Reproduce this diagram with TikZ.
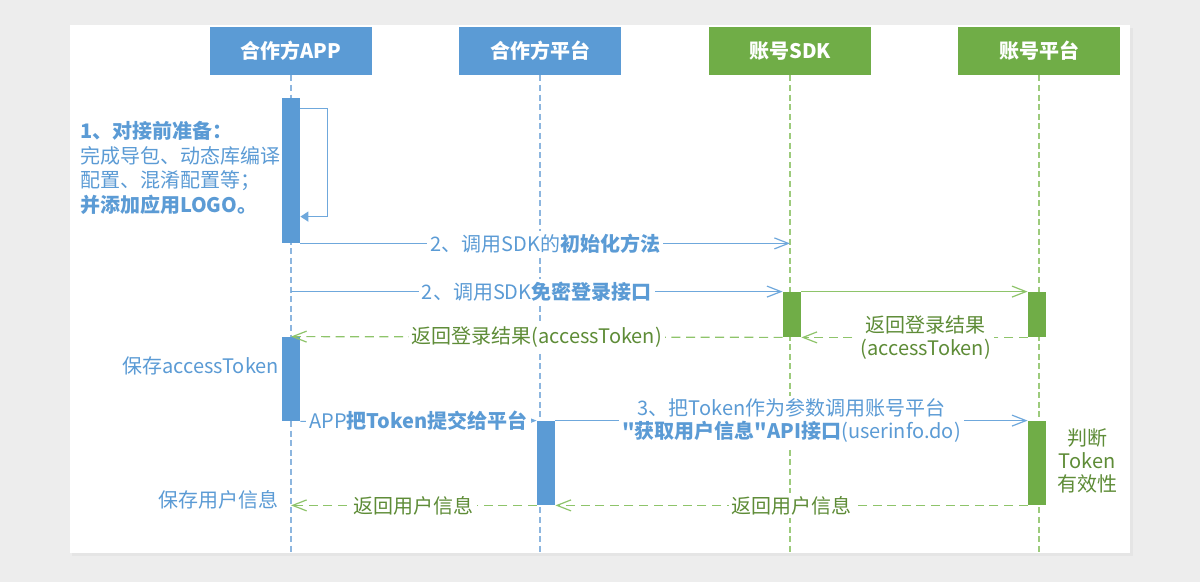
\documentclass[tikz,border=0pt]{standalone}
\usepackage{fontspec}
\setmainfont{Noto Sans CJK SC}
\newfontfamily\quotefont{Noto Sans CJK SC}
\usepackage{tikz}
\usetikzlibrary{arrows.meta,calc}

\definecolor{appblue}{HTML}{5B9BD5}
\definecolor{accgreen}{HTML}{70AD47}
\definecolor{lineblue}{HTML}{8DB6DF}
\definecolor{linegreen}{HTML}{9DCB7C}
\definecolor{txtgreen}{HTML}{5E8C37}
\definecolor{arrowblue}{HTML}{6FA8DC}
\definecolor{arrowgreen}{HTML}{8EC46A}
\definecolor{pagegray}{HTML}{EDEDED}

\begin{document}
\begin{tikzpicture}[x=0.5pt, y=-0.5pt,
    font=\fontsize{10}{11.6}\selectfont,
    head/.style={shape=rectangle, text=white, font=\fontsize{10}{12}\selectfont\bfseries,
        minimum width=81pt, minimum height=24pt, inner sep=0pt},
    bar/.style={shape=rectangle, minimum width=9pt, inner sep=0pt},
    life/.style={line width=0.7pt, dash pattern=on 3pt off 1.8pt},
    call/.style={draw=arrowblue, line width=0.6pt, -{Straight Barb[length=7pt,width=5.5pt]}},
    reply/.style={draw=arrowgreen, line width=0.6pt, dash pattern=on 4.5pt off 2.8pt,
        -{Straight Barb[length=7pt,width=5.5pt]}},
    bluetxt/.style={text=appblue, fill=white, inner sep=1.5pt, align=center},
    greentxt/.style={text=txtgreen, fill=white, inner sep=1.5pt, align=center}
]
    % page and card
    \fill[pagegray] (0,0) rectangle (1200,582);
    \fill[black!10] (72,28) rectangle (1133,556);
    \fill[white] (70,25) rectangle (1130,553);
    \useasboundingbox (0,0) rectangle (1200,582);

    % heads
    \node[head, fill=appblue] (app) at (291, 51) {合作方APP};
    \node[head, fill=appblue] (partner) at (540, 51) {合作方平台};
    \node[head, fill=accgreen] (sdk) at (790, 51) {账号SDK};
    \node[head, fill=accgreen] (acct) at (1039, 51) {账号平台};

    \coordinate (bottom) at (0, 553);

    % lifelines
    \path (app.south) edge[life, draw=lineblue] (app.south |- bottom);
    \path (partner.south) edge[life, draw=lineblue] (partner.south |- bottom);
    \path (sdk.south) edge[life, draw=linegreen] (sdk.south |- bottom);
    \path (acct.south) edge[life, draw=linegreen] (acct.south |- bottom);

    % activation bars
    \node[bar, fill=appblue, minimum height=72.5pt] (appbar1) at (291, 170.5) {};
    \node[bar, fill=appblue, minimum height=42pt] (appbar2) at (291, 379) {};
    \node[bar, fill=accgreen, minimum height=22.5pt] (sdkbar) at (792, 314.5) {};
    \node[bar, fill=accgreen, minimum height=22.5pt] (acctbar1) at (1037, 314.5) {};
    \node[bar, fill=appblue, minimum height=42pt] (partnerbar) at (546, 463) {};
    \node[bar, fill=accgreen, minimum height=42pt] (acctbar2) at (1037, 463) {};

    % step 1
    \node[text=appblue, anchor=west, align=left, font=\fontsize{10}{12.2}\selectfont] (prep) at (73, 168)
        {\textbf{1、对接前准备：}\\完成导包、动态库编译\\配置、混淆配置等；\\\textbf{并添加应用LOGO。}};
    \draw[arrowblue, line width=0.7pt, -{Triangle[length=4pt,width=5pt]}]
        ($(appbar1.north east)+(0,11)$) -- ++(27,0) |- ($(appbar1.north east)+(0,119)$);

    % messages
    \path (appbar1.south east) edge[call] node[bluetxt] {2、调用SDK的\textbf{初始化方法}} (appbar1.south east -| sdk.south);
    \path (sdkbar.north west -| app.south) edge[call] node[bluetxt] {2、调用SDK\textbf{免密登录接口}} (sdkbar.north west);
    \path (sdkbar.north east) edge[call, draw=arrowgreen] (acctbar1.north west);
    \path (acctbar1.south west) edge[reply] node[greentxt, pos=0.45] {返回登录结果\\(accessToken)} (sdkbar.south east);
    \path (sdkbar.south west) edge[reply] node[greentxt] {返回登录结果(accessToken)} (appbar2.north);
    \node[text=appblue, anchor=east] (savetoken) at (286, 366) {保存accessToken};

    \path (appbar2.south east) edge[call] node[bluetxt] {APP\textbf{把Token提交给平台}} (partnerbar.north west);
    \path (partnerbar.north east) edge[call] node[bluetxt] {3、把Token作为参数调用账号平台\\\textbf{{\quotefont"}获取用户信息{\quotefont"}API接口}(userinfo.do)} (acctbar2.north west);
    \node[text=txtgreen, align=center] (check) at (1087, 461) {判断\\Token\\有效性};
    \path (acctbar2.south west) edge[reply] node[greentxt] {返回用户信息} (partnerbar.south east);
    \path (partnerbar.south west) edge[reply] node[greentxt] {返回用户信息} (partnerbar.south west -| app.south);
    \node[text=appblue, anchor=east] (saveinfo) at (286, 500) {保存用户信息};
\end{tikzpicture}
\end{document}
